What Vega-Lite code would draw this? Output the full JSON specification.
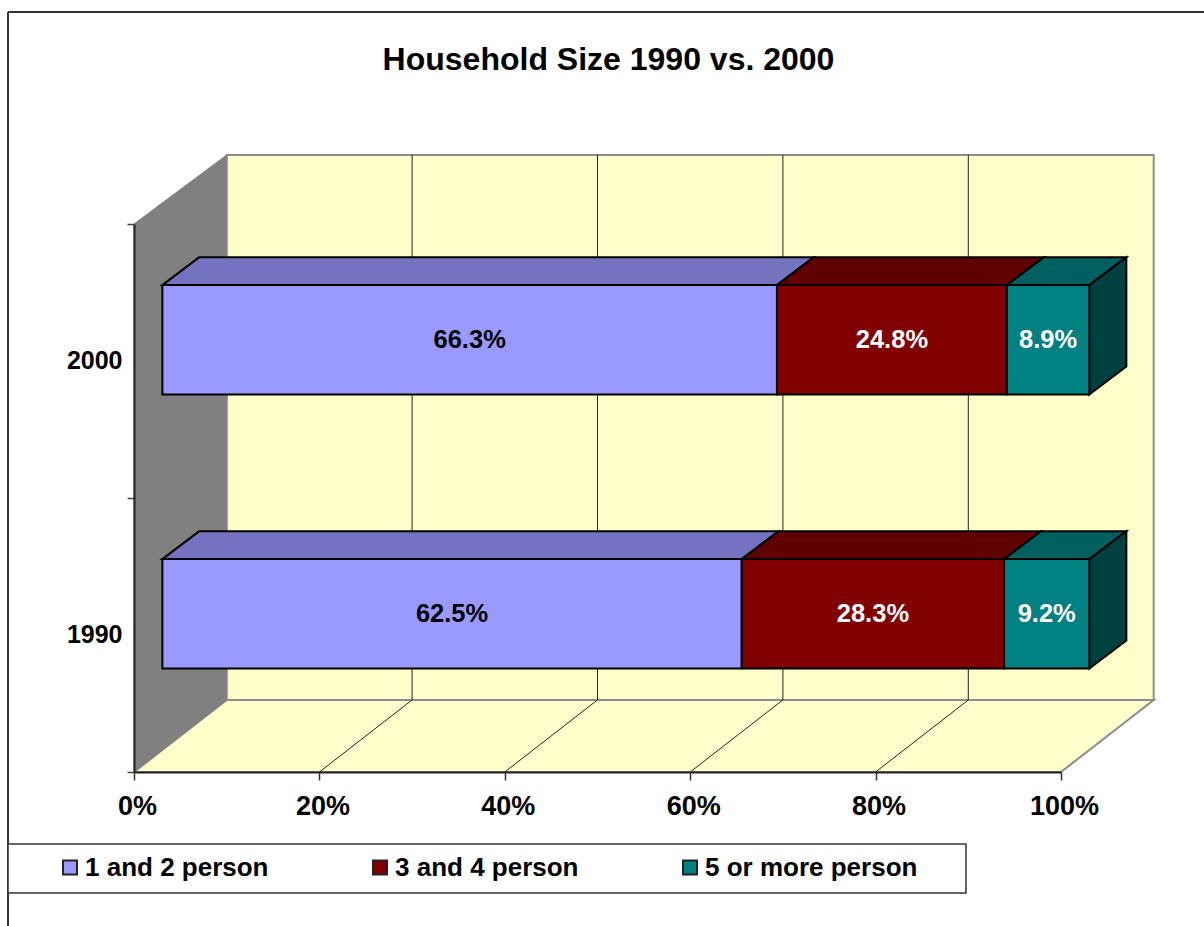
{"$schema":"https://vega.github.io/schema/vega-lite/v6.json","width":927,"height":548,"autosize":{"type":"none"},"padding":{"left":134,"top":224,"right":143,"bottom":154},"background":"white","title":{"text":"Household Size 1990 vs. 2000","font":"Liberation Sans","fontWeight":"bold","fontSize":32,"color":"black","anchor":"middle","dx":11,"offset":-66},"config":{"view":{"stroke":null}},"resolve":{"scale":{"fill":"independent"}},"layer":[{"data":{"values":[{"part":"frame"}]},"mark":{"type":"rule","color":"#333333","strokeWidth":2,"clip":false},"encoding":{"x":{"datum":-13.59,"type":"quantitative","scale":{"domain":[0,100],"nice":false,"zero":false},"axis":{"values":[0,20,40,60,80,100],"title":null,"grid":false,"labelExpr":"datum.value+'%'","labelFont":"Liberation Sans","labelFontWeight":"bold","labelFontSize":27,"labelColor":"black","labelPadding":13,"labelOffset":3,"tickSize":8,"tickColor":"#333333","tickWidth":1.5,"domainColor":"#222222","domainWidth":2,"zindex":1,"labelFlush":false,"labelOverlap":false}},"y":{"datum":2012.74,"type":"quantitative","scale":{"domain":[1985,2005],"nice":false,"zero":false},"axis":{"values":[1985,1990,1995,2000,2005],"title":null,"grid":false,"format":"d","labelExpr":"datum.value%10==0?datum.label:''","labelFont":"Liberation Sans","labelFontWeight":"bold","labelFontSize":25,"labelColor":"black","labelPadding":5,"labelOffset":-1,"tickSize":7,"tickColor":{"condition":{"test":"datum.value%10==0","value":"transparent"},"value":"#444444"},"tickWidth":1.5,"domainColor":"#222222","domainWidth":2,"zindex":1,"labelFlush":false,"labelOverlap":false}},"y2":{"datum":1979.38}}},{"data":{"values":[{"part":"frame"}]},"mark":{"type":"rule","color":"#333333","strokeWidth":2,"clip":false},"encoding":{"x":{"datum":-13.59,"type":"quantitative"},"x2":{"datum":116},"y":{"datum":2012.74,"type":"quantitative"}}},{"data":{"values":[{"part":"back wall"}]},"mark":{"type":"rect","fill":"#FFFFCC","stroke":"#8C8C8C","strokeWidth":2},"encoding":{"x":{"datum":10,"type":"quantitative"},"x2":{"datum":110},"y":{"datum":1987.63,"type":"quantitative"},"y2":{"datum":2007.52}}},{"data":{"values":[{"depth":0},{"depth":1}]},"transform":[{"calculate":"10*datum.depth","as":"wx"},{"calculate":"100+10*datum.depth","as":"wx2"},{"calculate":"1985+2.63*datum.depth","as":"wy"},{"calculate":"2005+2.52*datum.depth","as":"wy2"}],"layer":[{"mark":{"type":"area","fill":"#FFFFCC","stroke":"#8C8C8C","strokeWidth":2},"encoding":{"x":{"field":"wx","type":"quantitative"},"x2":{"field":"wx2"},"y":{"field":"wy","type":"quantitative"}}},{"mark":{"type":"area","fill":"#808080","stroke":"#808080","strokeWidth":1},"encoding":{"x":{"field":"wx","type":"quantitative"},"y":{"field":"wy","type":"quantitative"},"y2":{"field":"wy2"}}}]},{"data":{"values":[{"tick":20},{"tick":40},{"tick":60},{"tick":80}]},"transform":[{"calculate":"datum.tick+10","as":"backTick"}],"layer":[{"mark":{"type":"rule","color":"#222222","strokeWidth":1},"encoding":{"x":{"field":"tick","type":"quantitative"},"x2":{"field":"backTick"},"y":{"datum":1985,"type":"quantitative"},"y2":{"datum":1987.63}}},{"mark":{"type":"rule","color":"#222222","strokeWidth":1},"encoding":{"x":{"field":"backTick","type":"quantitative"},"y":{"datum":1987.63,"type":"quantitative"},"y2":{"datum":2007.52}}}]},{"data":{"values":[{"year":2000,"category":"1 and 2 person","share":66.3},{"year":2000,"category":"3 and 4 person","share":24.8},{"year":2000,"category":"5 or more person","share":8.9},{"year":1990,"category":"1 and 2 person","share":62.5},{"year":1990,"category":"3 and 4 person","share":28.3},{"year":1990,"category":"5 or more person","share":9.2}]},"transform":[{"stack":"share","groupby":["year"],"sort":[{"field":"category","order":"ascending"}],"as":["s0","s1"]},{"calculate":"datum.s0+3.06","as":"fx0"},{"calculate":"datum.s1+3.06","as":"fx1"},{"calculate":"datum.year-1.22","as":"ybot"},{"calculate":"datum.year+2.77","as":"ytop"},{"calculate":"datum.year+0.77","as":"ymid"},{"calculate":"(datum.fx0+datum.fx1)/2","as":"xmid"},{"calculate":"format(datum.share/100,'.1%')","as":"label"}],"resolve":{"scale":{"fill":"independent"}},"layer":[{"transform":[{"calculate":"[0,1]","as":"depth"},{"flatten":["depth"]},{"calculate":"datum.fx0+3.99*datum.depth","as":"tx0"},{"calculate":"datum.fx1+3.99*datum.depth","as":"tx1"},{"calculate":"datum.ytop+1.02*datum.depth","as":"ty"}],"mark":{"type":"area","stroke":"black","strokeWidth":2,"strokeJoin":"miter"},"encoding":{"x":{"field":"tx0","type":"quantitative"},"x2":{"field":"tx1"},"y":{"field":"ty","type":"quantitative"},"detail":{"field":"year"},"fill":{"field":"category","type":"nominal","legend":null,"scale":{"domain":["1 and 2 person","3 and 4 person","5 or more person"],"range":["#7373BF","#600000","#006060"]}}}},{"transform":[{"filter":"datum.category=='5 or more person'"},{"calculate":"[0,1]","as":"depth"},{"flatten":["depth"]},{"calculate":"datum.fx1+3.99*datum.depth","as":"sx"},{"calculate":"datum.ybot+1.02*datum.depth","as":"sy0"},{"calculate":"datum.ytop+1.02*datum.depth","as":"sy1"}],"mark":{"type":"area","fill":"#004040","stroke":"black","strokeWidth":2,"strokeJoin":"miter"},"encoding":{"x":{"field":"sx","type":"quantitative"},"y":{"field":"sy0","type":"quantitative"},"y2":{"field":"sy1"},"detail":{"field":"year"}}},{"mark":{"type":"rect","stroke":"black","strokeWidth":2},"encoding":{"x":{"field":"fx0","type":"quantitative"},"x2":{"field":"fx1"},"y":{"field":"ybot","type":"quantitative"},"y2":{"field":"ytop"},"fill":{"field":"category","type":"nominal","legend":null,"scale":{"domain":["1 and 2 person","3 and 4 person","5 or more person"],"range":["#9999FF","#800000","#008080"]}}}},{"mark":{"type":"text","font":"Liberation Sans","fontWeight":"bold","fontSize":25.5,"baseline":"middle","align":"center"},"encoding":{"x":{"field":"xmid","type":"quantitative"},"y":{"field":"ymid","type":"quantitative"},"text":{"field":"label"},"fill":{"condition":{"test":"datum.category=='1 and 2 person'","value":"black"},"value":"white"}}}]},{"data":{"values":[{"part":"legend box"}]},"mark":{"type":"rect","fill":"white","stroke":"#333333","strokeWidth":1.5},"encoding":{"x":{"datum":-13.59,"type":"quantitative"},"x2":{"datum":89.75},"y":{"datum":1982.37,"type":"quantitative"},"y2":{"datum":1980.58}}},{"data":{"values":[{"category":"1 and 2 person"},{"category":"3 and 4 person"},{"category":"5 or more person"}]},"mark":{"type":"point","opacity":0,"filled":true},"encoding":{"x":{"datum":0,"type":"quantitative"},"y":{"datum":1985,"type":"quantitative"},"fill":{"field":"category","type":"nominal","scale":{"domain":["1 and 2 person","3 and 4 person","5 or more person"],"range":["#9999FF","#800000","#008080"]},"legend":{"title":null,"orient":"none","legendX":-77,"legendY":630.5,"direction":"horizontal","columns":3,"columnPadding":98,"padding":0,"symbolType":"square","symbolSize":196,"symbolStrokeColor":"#222222","symbolStrokeWidth":2,"symbolOpacity":1,"labelFont":"Liberation Sans","labelFontWeight":"bold","labelFontSize":26,"labelColor":"black","labelOffset":2,"labelLimit":300,"zindex":2}}}}]}
